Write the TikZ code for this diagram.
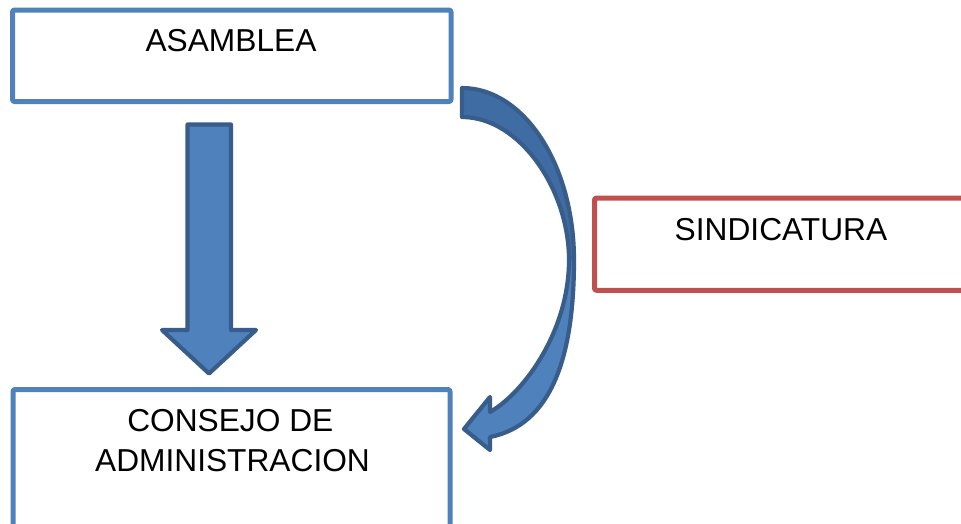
\documentclass[tikz,border=0pt]{standalone}
\usepackage{fontspec}
\setmainfont{Liberation Sans}
\definecolor{boxblue}{HTML}{4F81BD}
\definecolor{arrowline}{HTML}{385D8A}
\definecolor{arrowback}{HTML}{3F6CA2}
\definecolor{boxred}{HTML}{C0504D}
\begin{document}
\begin{tikzpicture}[x=1pt,y=-1pt,
  box/.style={draw=boxblue, line width=5pt, rounded corners=2pt, line join=round, fill=white, inner sep=0pt},
  txt/.style={font=\fontsize{31.7}{38}\selectfont, inner sep=0pt, anchor=base},
  arrowedge/.style={draw=arrowline, line width=4.2pt, line join=round},
  blockarrow/.style={fill=boxblue, arrowedge}]
\useasboundingbox (0,0) rectangle (961,523);
\clip (0,0) rectangle (961,523);
\fill[white] (0,0) rectangle (961,523);
% boxes
\node[box, minimum width=438.5pt, minimum height=91.5pt] (asamblea) at (231.75,55.75) {};
\node[box, minimum width=437pt, minimum height=210.5pt] (consejo) at (231.5,494.75) {};
\node[box, draw=boxred, minimum width=415.5pt, minimum height=92.3pt] (sind) at (802.25,244.15) {};
% texts
\node[txt] (tasamblea) at (231,51.7) {ASAMBLEA};
\node[txt] (tsind) at (781,240.7) {SINDICATURA};
\node[txt] (tconsejo1) at (230.3,431) {CONSEJO DE};
\node[txt] (tconsejo2) at (232.5,471) {ADMINISTRACION};
% straight block arrow
\draw[blockarrow] (187.5,124.5) -- (231,124.5) -- (231,330) -- (256,330)
  -- (209,373.5) -- (162,330) -- (187.5,330) -- cycle;
% curved block arrow: light front part
\fill[boxblue] (574,260)
  .. controls (574,360) and (550,425) .. (490,437)
  -- (490,450) -- (464,429) -- (490,397) -- (490,412)
  .. controls (525,392) and (569,330) .. (569,260) -- cycle;
% darker back part
\fill[arrowback] (462,88) .. controls (524,88) and (574,165) .. (574,260)
  -- (569,260) .. controls (569,190) and (520,117) .. (462,117) -- cycle;
% outline
\draw[arrowedge] (462,88) .. controls (524,88) and (574,165) .. (574,260)
  .. controls (574,360) and (550,425) .. (490,437)
  -- (490,450) -- (464,429) -- (490,397) -- (490,412)
  .. controls (525,392) and (569,330) .. (569,260)
  .. controls (569,190) and (520,117) .. (462,117) -- cycle;
\end{tikzpicture}
\end{document}
